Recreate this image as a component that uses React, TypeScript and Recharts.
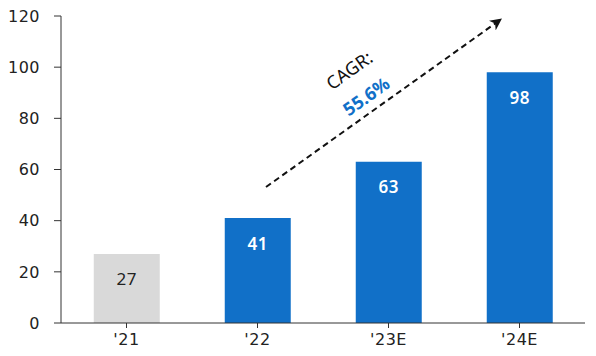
import React from "react";
import { BarChart, Bar, XAxis, YAxis, Cell, LabelList } from "recharts";

const categories = ["'21", "'22", "'23E", "'24E"];
const values = [27, 41, 63, 98];
const barColors = ["#D9D9D9", "#1170C8", "#1170C8", "#1170C8"];
const labelColors = ["#222222", "#FFFFFF", "#FFFFFF", "#FFFFFF"];
const yTicks = [0, 20, 40, 60, 80, 100, 120];
const cagrTitle = "CAGR:";
const cagrValue = "55.6%";

const data = categories.map((name, i) => ({ name, value: values[i] }));

const FONT = "'Noto Sans', 'DejaVu Sans', sans-serif";
const AXIS_FONT = "'DejaVu Sans', sans-serif";
const W = 596;
const H = 356;

const BarValueLabel = (props: any) => {
  const { x, y, width, value, index } = props;
  return (
    <text
      x={x + width / 2}
      y={y + 25}
      textAnchor="middle"
      dominantBaseline="central"
      fontFamily={FONT}
      fontSize={17}
      fontWeight={index === 0 ? 400 : 600}
      fill={labelColors[index]}
      letterSpacing={0.5}
    >
      {value}
    </text>
  );
};

const tickStyle = { fontFamily: AXIS_FONT, fontSize: 16, fill: "#222", letterSpacing: 0.5 };

export default function App() {
  return (
    <div style={{ position: "absolute", left: 0, top: 0, width: W, height: H, background: "#fff" }}>
      <BarChart
        width={W}
        height={H}
        data={data}
        margin={{ top: 16, right: 11, bottom: 3, left: 0 }}
        barCategoryGap="25%"
      >
        <XAxis
          dataKey="name"
          axisLine={{ stroke: "#333", strokeWidth: 1 }}
          tickLine={{ stroke: "#333" }}
          tickSize={5}
          tickMargin={6}
          height={30}
          tick={tickStyle}
          interval={0}
        />
        <YAxis
          domain={[0, 120]}
          ticks={yTicks}
          width={61}
          axisLine={{ stroke: "#333", strokeWidth: 1 }}
          tickLine={{ stroke: "#333" }}
          tickSize={7}
          tickMargin={14}
          tick={tickStyle}
          interval={0}
        />
        <Bar dataKey="value" isAnimationActive={false}>
          {data.map((d, i) => (
            <Cell key={d.name} fill={barColors[i]} />
          ))}
          <LabelList dataKey="value" content={<BarValueLabel />} />
        </Bar>
      </BarChart>
      <svg
        width={W}
        height={H}
        style={{ position: "absolute", left: 0, top: 0, pointerEvents: "none" }}
      >
        <defs>
          <marker id="arrowHead" viewBox="0 0 10 10" refX="8" refY="5" markerWidth="6" markerHeight="6" orient="auto">
            <path d="M0,0 L10,5 L0,10 L3,5 Z" fill="#111" />
          </marker>
        </defs>
        <line
          x1={266}
          y1={187}
          x2={500}
          y2={20}
          stroke="#111"
          strokeWidth={2}
          strokeDasharray="6 4"
          markerEnd="url(#arrowHead)"
        />
        <g transform="rotate(-35.5 349 70)">
          <text x={349} y={70} textAnchor="middle" dominantBaseline="central" fontFamily={FONT} fontSize={18} fill="#111">
            {cagrTitle}
          </text>
        </g>
        <g transform="rotate(-35.5 366 96)">
          <text x={366} y={96} textAnchor="middle" dominantBaseline="central" fontFamily={FONT} fontSize={18} fontWeight={700} fill="#1170C8">
            {cagrValue}
          </text>
        </g>
      </svg>
    </div>
  );
}
